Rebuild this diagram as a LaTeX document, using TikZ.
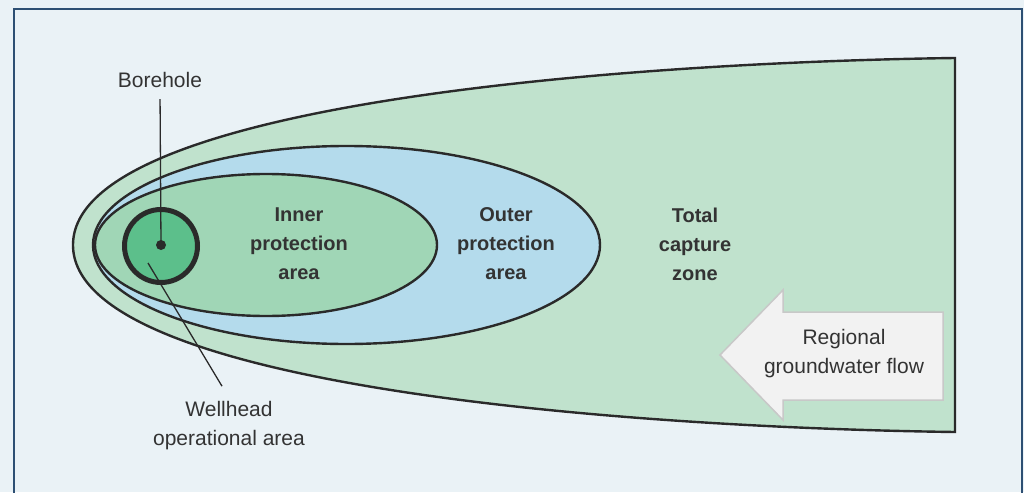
\documentclass[tikz,border=0pt]{standalone}
\usepackage{fontspec}
\setmainfont{Liberation Sans}
\definecolor{bgcol}{HTML}{EAF2F6}
\definecolor{framecol}{HTML}{2D4F73}
\definecolor{linecol}{HTML}{2A2A2A}
\definecolor{txtcol}{HTML}{333333}
\definecolor{capcol}{HTML}{C0E2CD}
\definecolor{outcol}{HTML}{B4DBEC}
\definecolor{inncol}{HTML}{A0D6B6}
\definecolor{holecol}{HTML}{5CBF8B}
\definecolor{flowfill}{HTML}{F2F2F2}
\definecolor{flowline}{HTML}{C8C8C8}
\begin{document}
\begin{tikzpicture}[x=1pt,y=-1pt,
	zone/.style={draw=linecol,line width=2.4pt},
	leader/.style={draw=linecol,line width=1.3pt},
	lbl/.style={text=txtcol,align=center,font=\fontsize{21}{29}\selectfont},
	blbl/.style={lbl,font=\fontsize{20}{29}\selectfont\bfseries}]
	\useasboundingbox (0,0) rectangle (1024,492);
	\clip (0,0) rectangle (1024,492);
	\fill[bgcol] (0,0) rectangle (1024,492);
	\draw[framecol,line width=1.6pt] (14,500) -- (14,9) -- (1022,9) -- (1022,500);
	\draw[zone,fill=capcol] (955,58) .. controls (650,62) and (73,100) .. (73,245)
		.. controls (73,390) and (650,428) .. (955,432) -- cycle;
	\draw[zone,fill=outcol] (346.5,245) ellipse [x radius=253.5pt,y radius=99pt];
	\draw[zone,fill=inncol] (266,245) ellipse [x radius=171pt,y radius=71pt];
	\node[circle,draw=linecol,line width=5pt,fill=holecol,minimum size=73pt,inner sep=0pt] (hole) at (161,246) {};
	\node[circle,fill=linecol,minimum size=10pt,inner sep=0pt] (dot) at (161,245) {};
	\coordinate (wtip) at (148,263);
	\node[lbl] (borehole) at (160,80) {Borehole};
	\node[lbl] (wellhead) at (229,426) {Wellhead\\operational area};
	\draw[leader,shorten <=8pt] (borehole.south) -- (dot.center);
	\draw[leader] (wtip) -- ([xshift=-7pt,yshift=12pt]wellhead.north);
	\node[blbl] (inner) at (299,244) {Inner\\protection\\area};
	\node[blbl] (outer) at (506,244) {Outer\\protection\\area};
	\node[blbl] (total) at (695,244) {Total\\capture\\zone};
	\draw[fill=flowfill,draw=flowline,line width=1.5pt] (720,355) -- (783,290) -- (783,312)
		-- (943,312) -- (943,400) -- (783,400) -- (783,420) -- cycle;
	\node[lbl] (flow) at (844,354) {Regional\\groundwater flow};
\end{tikzpicture}
\end{document}
